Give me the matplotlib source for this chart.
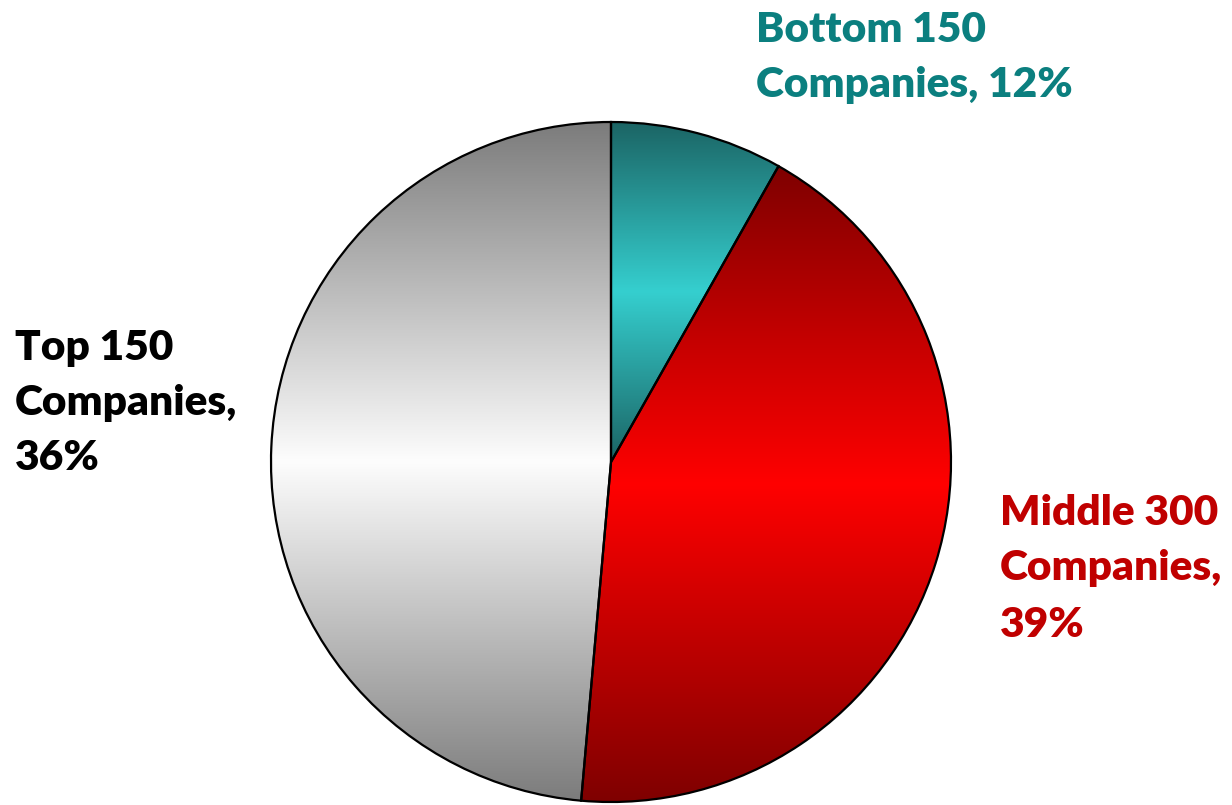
import numpy as np
import matplotlib
matplotlib.use("Agg")
import matplotlib.pyplot as plt
from matplotlib.colors import to_rgb

# slice sizes as drawn (degrees -> share), printed labels differ
categories = ["Bottom 150", "Middle 300", "Top 150"]
slice_share = [8.2, 43.2, 48.6]
label_pct = [12, 39, 36]

# gradient colours: edge (top/bottom) and centre of each slice
dark_cols = ["#1b6464", "#7f0000", "#7c7c7c"]
light_cols = ["#35cfcf", "#ff0000", "#fdfdfd"]
text_cols = ["#0b7f7f", "#c00000", "#000000"]

W, H = 1232, 805
fig = plt.figure(figsize=(W / 100, H / 100), dpi=100)
ax = fig.add_axes([0, 0, 1, 1])

cx, cy, r = 611, H - 462, 340
wedges, _ = ax.pie(slice_share, startangle=90, counterclock=False,
                   center=(cx, cy), radius=r, frame=True,
                   wedgeprops=dict(facecolor="none", edgecolor="black", linewidth=1.6))
ax.set_xlim(0, W)
ax.set_ylim(0, H)
ax.axis("off")

# vertical gradient per slice: dark at top and bottom, bright in the middle
t = np.linspace(0, 1, 256)
prof = 1 - np.abs(2 * t - 1)
for w, dc, lc in zip(wedges, dark_cols, light_cols):
    w.set_zorder(3)
    bb = w.get_path().get_extents(w.get_patch_transform())
    d, l = np.array(to_rgb(dc)), np.array(to_rgb(lc))
    img = d[None, :] + (l - d)[None, :] * prof[:, None]
    img = np.repeat(img[:, None, :], 2, axis=1)
    im = ax.imshow(img, extent=(bb.x0, bb.x1, bb.y0, bb.y1), origin="lower",
                   aspect="auto", zorder=2, interpolation="bilinear")
    im.set_clip_path(w)

# labels, one line at a time (baselines in pixels from top)
font = dict(family=["Lato", "DejaVu Sans"], fontweight="heavy", fontsize=30.5)
labels = [
    (756, [42, 97], ["Bottom 150", "Companies, %d%%" % label_pct[0]], text_cols[0]),
    (1000, [525, 580, 637], ["Middle 300", "Companies,", "%d%%" % label_pct[1]], text_cols[1]),
    (15, [360, 415, 470], ["Top 150", "Companies,", "%d%%" % label_pct[2]], text_cols[2]),
]
for x, ys, lines, col in labels:
    for y, s in zip(ys, lines):
        ax.text(x, H - y, s, color=col, ha="left", va="baseline", **font)

fig.savefig("out.png", dpi=100)
